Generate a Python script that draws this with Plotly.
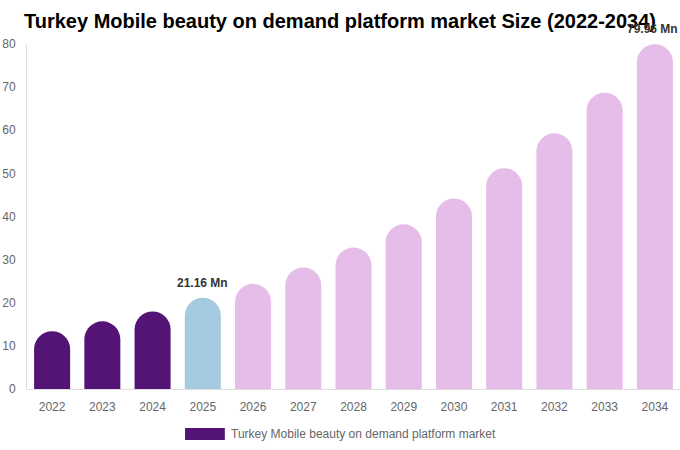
import plotly.graph_objects as go

# ===============================
# DATA
# ===============================
years = ["2022", "2023", "2024", "2025", "2026", "2027", "2028",
         "2029", "2030", "2031", "2032", "2033", "2034"]
market_size = [13.4, 15.7, 18.0, 21.16, 24.4, 28.2, 32.8,
               38.2, 44.2, 51.2, 59.3, 68.7, 79.96]
bar_colors = ["#541475"] * 3 + ["#a4cbe0"] + ["#e6bce8"] * 9
label_years = ["2025", "2034"]
label_texts = ["21.16 Mn", "79.96 Mn"]

series_name = "Turkey Mobile beauty on demand platform market"
title_text = "Turkey Mobile beauty on demand platform market Size (2022-2034)"

FONT = "Liberation Sans, Arial, sans-serif"

# ===============================
# FIGURE
# ===============================
fig = go.Figure()

fig.add_trace(go.Bar(
    x=years,
    y=market_size,
    marker=dict(color=bar_colors, cornerradius="50%", line=dict(width=0)),
    name=series_name,
    showlegend=False,
    hoverinfo="x+y",
))

# value labels; category index used as x (strings like "2025" get read as numbers)
for yr, txt in zip(label_years, label_texts):
    idx = years.index(yr)
    fig.add_annotation(
        x=idx, y=market_size[idx], text=f"<b>{txt}</b>", showarrow=False,
        yanchor="bottom", yshift=6,
        xshift=-2 if idx == len(years) - 1 else 0,
        font=dict(family=FONT, size=12, color="#333333"),
    )

# legend drawn by hand (wide swatch)
fig.add_shape(
    type="rect", xref="paper", yref="paper",
    x0=0.242, x1=0.303, y0=-0.148, y1=-0.113,
    fillcolor=bar_colors[0], line=dict(width=0),
)
fig.add_annotation(
    xref="paper", yref="paper", x=0.309, y=-0.131,
    text=series_name, showarrow=False, xanchor="left", yanchor="middle",
    font=dict(family=FONT, size=12, color="#666666"),
)

fig.update_layout(
    width=680,
    height=450,
    margin=dict(l=27, r=0, t=44, b=61),
    paper_bgcolor="white",
    plot_bgcolor="white",
    bargap=0.283,
    font=dict(family=FONT, size=12, color="#666666"),
    title=dict(
        text=f"<b>{title_text}</b>",
        x=0.5, xanchor="center",
        y=0.953, yanchor="middle",
        font=dict(family=FONT, size=20, color="#000000"),
    ),
    xaxis=dict(
        type="category",
        range=[-0.5, len(years) - 0.5],
        showgrid=False,
        showline=True, linecolor="#dddddd", linewidth=1,
        ticks="", ticklabelstandoff=7, automargin=False,
        tickfont=dict(size=12, color="#666666"),
    ),
    yaxis=dict(
        range=[0, 80],
        dtick=10,
        showgrid=False,
        zeroline=False,
        showline=True, linecolor="#dddddd", linewidth=1,
        ticks="", ticklabelstandoff=8, automargin=False,
        tickfont=dict(size=12, color="#666666"),
    ),
)

# drop the default 8px body margin so the figure sits at the window's corner
fig.write_html(
    "out.html",
    config={"displayModeBar": False},
    post_script="document.body.style.margin = '0';",
)
